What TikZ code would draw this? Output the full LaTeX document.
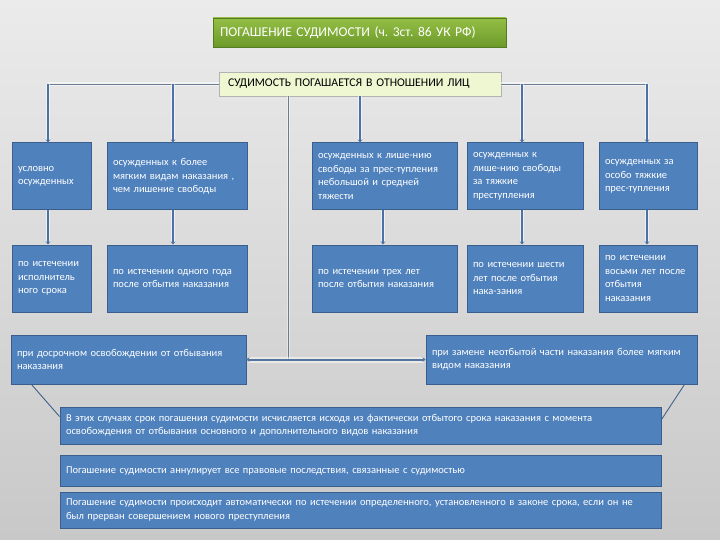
\documentclass[tikz,border=0pt]{standalone}
\usepackage{fontspec}
\setmainfont{Carlito}
\usetikzlibrary{arrows.meta}
\definecolor{boxblue}{HTML}{4F81BD}
\definecolor{boxedge}{HTML}{3A5F8C}
\definecolor{buscol}{HTML}{6A7C92}
\definecolor{dropcol}{HTML}{4A72A6}
\definecolor{titletop}{HTML}{94BE45}
\definecolor{titlebot}{HTML}{6C9A2A}
\definecolor{subfill}{HTML}{EEF7D2}
\definecolor{bgtop}{HTML}{EBEBEB}
\definecolor{bgbot}{HTML}{C8C8C8}
\frenchspacing
\begin{document}
\begin{tikzpicture}[x=1pt,y=-1pt,
  bbox/.style={draw=boxedge, line width=1pt, fill=boxblue, text=white, align=left,
    font=\fontsize{10.5}{13.5}\selectfont, inner xsep=6pt, inner ysep=1pt},
  halo/.style={preaction={draw=white, draw opacity=0.55, line width=4pt}},
  bus/.style={draw=buscol, line width=0.9pt, halo},
  drop/.style={draw=dropcol, line width=1.6pt, halo, -{Stealth[length=3pt,width=4.5pt]}},
  link/.style={draw=dropcol!80!gray, line width=2pt,
    preaction={draw=white, draw opacity=0.5, line width=6pt},
    {Stealth[length=3pt,width=5pt]}-{Stealth[length=3pt,width=5pt]}},
  thin/.style={draw=buscol, line width=0.8pt,
    preaction={draw=white, draw opacity=0.4, line width=3pt}},
  diag/.style={draw=boxedge!90!gray, line width=0.9pt}]
\shade[top color=bgtop, bottom color=bgbot] (0,0) rectangle (720,540);
\useasboundingbox (0,0) rectangle (720,540);

% title boxes
\node[top color=titletop, bottom color=titlebot, draw=titlebot!80!black, line width=0.4pt,
  text=white, align=left, font=\fontsize{13.5}{15}\selectfont,
  minimum width=293pt, minimum height=29pt, text width=279pt, inner xsep=7pt]
  (title) at (359.5,32.5) {ПОГАШЕНИЕ СУДИМОСТИ (ч. 3ст. 86 УК РФ)};
\node[fill=subfill, draw=gray!60, line width=0.6pt, text=black, align=left,
  font=\fontsize{11.8}{13}\selectfont,
  minimum width=282pt, minimum height=24pt, text width=264pt, inner xsep=9pt]
  (sub) at (360,84) {СУДИМОСТЬ ПОГАШАЕТСЯ В ОТНОШЕНИИ ЛИЦ};

% row 1
\node[bbox, minimum width=79pt, minimum height=67pt, text width=67pt] (b1) at (51.5,176.5)
  {условно\\осужденных};
\node[bbox, minimum width=140pt, minimum height=67pt, text width=128pt] (b2) at (177,176.5)
  {осужденных к более\\мягким видам наказания ,\\чем лишение свободы};
\node[bbox, minimum width=145pt, minimum height=67pt, text width=133pt] (b3) at (384.5,176.5)
  {осужденных к лише-нию\\свободы за прес-тупления\\небольшой и средней\\тяжести};
\node[bbox, minimum width=116pt, minimum height=67pt, text width=104pt] (b4) at (525,176.5)
  {осужденных к\\лише-нию свободы\\за тяжкие\\преступления};
\node[bbox, minimum width=98pt, minimum height=67pt, text width=86pt] (b5) at (648,176.5)
  {осужденных за\\особо тяжкие\\прес-тупления};

% row 2
\node[bbox, minimum width=79pt, minimum height=67pt, text width=67pt] (r1) at (51.5,278.5)
  {по истечении\\исполнитель\\ного срока};
\node[bbox, minimum width=140pt, minimum height=67pt, text width=128pt] (r2) at (177,278.5)
  {по истечении одного года\\после отбытия наказания};
\node[bbox, minimum width=145pt, minimum height=67pt, text width=133pt] (r3) at (384.5,278.5)
  {по истечении трех лет\\после отбытия наказания};
\node[bbox, minimum width=116pt, minimum height=67pt, text width=104pt] (r4) at (525,278.5)
  {по истечении шести\\лет после отбытия\\нака-зания};
\node[bbox, minimum width=98pt, minimum height=67pt, text width=86pt] (r5) at (648,278.5)
  {по истечении\\восьми лет после\\отбытия\\наказания};

% row 3
\node[bbox, minimum width=235pt, minimum height=49pt, text width=223pt] (lft) at (128.5,359.5)
  {при досрочном освобождении от отбывания\\наказания};
\node[bbox, minimum width=271pt, minimum height=49pt, text width=259pt] (rgt) at (561.5,359.5)
  {при замене неотбытой части наказания более мягким\\видом наказания};

% bottom boxes
\node[bbox, minimum width=601pt, minimum height=37pt, text width=589pt] (n1) at (360.5,425.5)
  {В этих случаях срок погашения судимости исчисляется исходя из фактически отбытого срока наказания с момента\\освобождения от отбывания основного и дополнительного видов наказания};
\node[bbox, minimum width=601pt, minimum height=31pt, text width=589pt] (n2) at (360.5,470.5)
  {Погашение судимости аннулирует все правовые последствия, связанные с судимостью};
\node[bbox, minimum width=601pt, minimum height=36pt, text width=589pt] (n3) at (360.5,510)
  {Погашение судимости происходит автоматически по истечении определенного, установленного в законе срока, если он не\\был прерван совершением нового преступления};

% bus coordinates
\coordinate (j1) at (48,84);
\coordinate (j2) at (173,84);
\coordinate (j4) at (522,84);
\coordinate (j5) at (647,84);
\coordinate (jm) at (288,359.5);

\draw[bus] (sub.west) -- (j1);
\draw[bus] (sub.east) -- (j5);
\draw[drop] (j1) -- (j1 |- b1.north);
\draw[drop] (j2) -- (j2 |- b2.north);
\draw[drop] (j4) -- (j4 |- b4.north);
\draw[drop] (j5) -- (j5 |- b5.north);
\draw[drop] (sub.south) -- (sub.south |- b3.north);
\draw[thin] (jm |- sub.south) -- (jm);

% row 1 -> row 2
\draw[drop] (j1 |- b1.south) -- (j1 |- r1.north);
\draw[drop] (j2 |- b2.south) -- (j2 |- r2.north);
\draw[drop] ([xshift=-1.5pt]b3.south) -- ([xshift=-1.5pt]r3.north);
\draw[drop] (j4 |- b4.south) -- (j4 |- r4.north);
\draw[drop] (j5 |- b5.south) -- (j5 |- r5.north);

% row 3 link
\draw[link] (lft.east) -- (rgt.west);

% callout lines
\draw[diag] ([xshift=21pt]lft.south west) -- ([yshift=9pt]n1.west);
\draw[diag] ([xshift=-13pt]rgt.south east) -- ([yshift=6pt]n1.east);
\end{tikzpicture}
\end{document}
